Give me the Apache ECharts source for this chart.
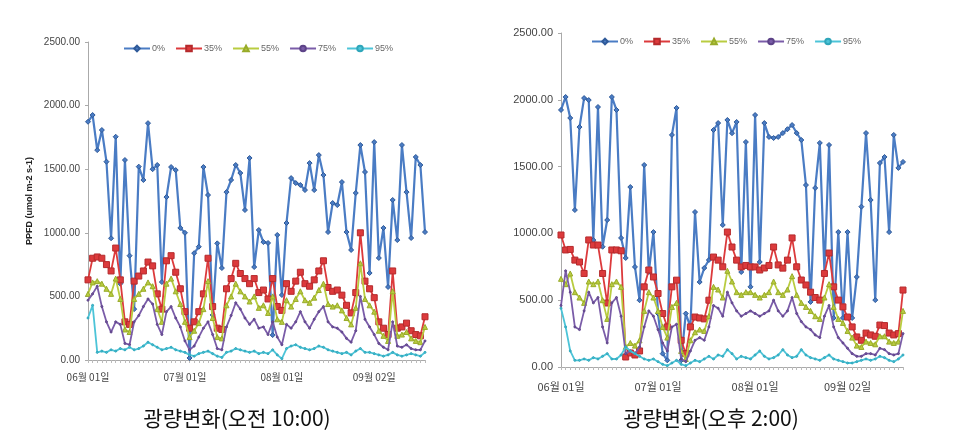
<!DOCTYPE html>
<html><head><meta charset="utf-8">
<script src="https://cdn.jsdelivr.net/npm/echarts@6/dist/echarts.min.js"></script>
<style>html,body{margin:0;padding:0;background:#fff}#c{width:963px;height:445px}</style>
</head><body><div id="c"></div>
<script>
const seriesNames = ['0%','35%','55%','75%','95%'];
const tickText = ['06월 01일','07월 01일','08월 01일','09월 02일'];
const tickIndex = [0,21,42,62];
const captions = ['광량변화(오전 10:00)','광량변화(오후 2:00)'];
const yTicks = [0,500,1000,1500,2000,2500];

// Left panel (10:00)
const amBlue = [1873,1926,1650,1808,1559,957,1755,600,1572,820,
400,1520,1415,1862,1500,1533,613,1281,1517,1493,
1038,1000,16,840,890,1517,1297,354,917,723,
1320,1415,1533,1470,1179,1588,731,1022,927,920,
196,983,511,1077,1430,1391,1376,1336,1548,1336,
1611,1454,1006,1234,1218,1399,1006,865,1313,1690,
1478,684,1713,802,1038,574,1258,943,1690,1320,
959,1596,1533,1006];
const amRed = [630,800,810,800,750,700,880,630,300,280,
620,660,700,770,740,520,400,780,820,690,
560,380,250,300,380,520,800,420,250,240,
560,640,760,680,640,600,640,530,550,480,
640,420,390,600,540,620,690,600,580,630,
700,780,570,540,550,510,430,370,530,1000,
620,560,490,300,250,200,700,250,260,290,
230,200,190,340];
const amGreen = [520,610,620,600,560,520,640,480,240,220,
480,520,560,610,580,400,300,600,640,540,
440,300,180,230,290,400,620,330,180,170,
430,500,600,540,500,460,500,410,430,370,
500,320,300,470,420,480,540,470,450,490,
550,600,440,420,430,390,330,280,410,760,
480,430,380,230,190,150,540,190,200,220,
170,150,140,260];
const amPurple = [470,520,580,420,300,220,300,280,130,120,
300,350,420,480,440,280,200,380,420,330,
260,150,80,110,180,250,300,200,90,80,
260,350,450,400,330,280,320,250,260,200,
300,180,120,280,250,300,380,300,250,320,
380,420,300,260,250,220,170,140,230,500,
320,260,200,130,100,80,300,110,100,120,
90,80,80,150];
const amCyan = [330,430,60,70,60,80,70,90,80,100,
80,90,110,140,120,100,80,90,100,80,
70,60,40,30,50,60,70,50,30,20,
60,70,90,80,70,60,70,50,60,50,
80,40,10,90,110,120,100,90,80,90,
110,100,80,70,60,50,60,40,70,90,
60,60,50,40,30,40,60,40,30,40,
50,40,30,60];

// Right panel (14:00)
const pmBlue = [1924,2021,1864,1175,1796,2013,1998,950,1946,900,
1100,2021,1924,966,816,1347,749,500,1512,711,
1010,400,100,50,1737,1939,50,400,300,1160,
636,741,801,1774,1826,1063,1849,1750,1834,711,
1684,600,1886,786,1826,1722,1714,1722,1751,1780,
1811,1751,1699,1362,487,1340,1677,711,1662,367,
1010,367,1010,367,674,1200,1751,1250,501,1527,
1572,1010,1737,1490,1535];
const pmRed = [988,876,880,800,786,700,951,913,913,700,
479,876,876,870,75,105,90,120,600,726,
674,550,400,300,600,650,200,100,300,374,
367,360,500,823,800,750,1010,898,800,749,
760,749,749,726,741,760,898,764,740,800,
966,750,651,614,560,520,501,700,853,600,
501,450,374,300,225,200,254,240,230,314,
310,254,240,250,576];
const pmGreen = [660,620,700,560,520,480,640,620,640,500,
360,620,640,600,150,180,160,200,420,560,
520,420,300,220,450,480,120,60,200,260,
280,270,380,600,580,520,720,640,560,540,
560,560,540,520,540,560,640,560,540,580,
680,540,480,450,420,380,360,520,620,450,
360,330,270,220,160,150,190,180,170,230,
230,190,180,190,420];
const pmPurple = [460,720,560,300,280,420,560,480,520,300,
180,480,520,380,100,120,100,150,300,420,
380,280,180,120,300,320,60,40,120,200,
220,200,300,460,440,380,560,480,420,380,
400,420,400,380,400,420,500,420,380,420,
520,400,340,300,280,240,220,380,460,300,
220,180,140,100,80,80,100,100,90,140,
130,100,90,100,250];
const pmCyan = [440,300,120,50,50,60,50,70,60,80,
100,60,60,90,150,120,100,80,60,50,
60,40,20,10,30,50,20,10,30,50,
40,60,80,60,90,80,130,100,60,80,
70,60,90,120,80,60,70,90,130,90,
70,80,130,90,70,60,50,70,90,60,
50,40,30,30,40,50,60,50,60,80,
70,50,40,60,90];

const colors = ['#4a7cc4','#dc3a3c','#b9cc40','#7a5ca8','#4cc4d8'];
const symbols = ['diamond','rect','triangle','circle','circle'];
const symSizes = [5,6,5,2,2];
const borderCols = ['#2f5a99','#b52a2c','#98ab2a','#5d4388','#2fa6ba'];

const amData = [amBlue, amRed, amGreen, amPurple, amCyan];
const pmData = [pmBlue, pmRed, pmGreen, pmPurple, pmCyan];

function cats(n){ return Array.from({length:n}, (_, i) => String(i)); }

function mkSeries(dataArr, idx){
  return dataArr.map((d, k) => ({
    name: seriesNames[k], type:'line', xAxisIndex: idx, yAxisIndex: idx,
    data: d, symbol: symbols[k], symbolSize: symSizes[k], showSymbol: true, showAllSymbol: true,
    lineStyle: {color: colors[k], width: k===0 ? 2.2 : 1.8},
    itemStyle: {color: colors[k], borderColor: borderCols[k], borderWidth: 1},
    animation: false, z: 2 + k
  }));
}

function xAx(idx, n, fs, margin){
  return {
    type:'category', gridIndex: idx, data: cats(n), boundaryGap:false,
    axisLine:{lineStyle:{color:'#aaa', width:1}},
    axisTick:{show:true, interval:0, length:3, lineStyle:{color:'#bbb'}},
    axisLabel:{
      interval: (i) => tickIndex.indexOf(i) >= 0,
      formatter: (v, i) => { const p = tickIndex.indexOf(Number(v)); return p >= 0 ? tickText[p] : ''; },
      fontSize: fs, color:'#444', margin: margin, fontFamily:'Noto Sans CJK KR'
    },
    splitLine:{show:false}
  };
}
function yAx(idx, fs, withName){
  const a = {
    type:'value', gridIndex: idx, min: yTicks[0], max: yTicks[yTicks.length-1], interval: 500,
    axisLine:{show:true, lineStyle:{color:'#aaa'}},
    axisTick:{show:true, length:3, lineStyle:{color:'#aaa'}},
    axisLabel:{formatter: v => v.toFixed(2), fontSize: fs, color:'#444', margin: 8, fontFamily:'Arial'},
    splitLine:{show:false}
  };
  if (withName){
    a.name = 'PPFD (umol m-2 s-1)';
    a.nameLocation = 'middle';
    a.nameGap = 54;
    a.nameTextStyle = {fontSize: 9, fontWeight:'bold', color:'#222', fontFamily:'Arial'};
  }
  return a;
}

const chart = echarts.init(document.getElementById('c'), null, {renderer:'canvas'});
chart.setOption({
  backgroundColor:'#fff',
  animation:false,
  color: colors,
  grid:[
    {left:88, right:963-425, top:42, bottom:445-360},
    {left:561, right:963-903, top:33, bottom:445-367}
  ],
  legend:[
    {data: seriesNames, left: 118, top: 39, itemWidth: 26, itemHeight: 7, itemGap: 10,
     textStyle:{fontSize:9, color:'#666', fontFamily:'Arial', padding:[0,0,0,-3]}},
    {data: seriesNames, left: 586, top: 32, itemWidth: 26, itemHeight: 7, itemGap: 10,
     textStyle:{fontSize:9, color:'#666', fontFamily:'Arial', padding:[0,0,0,-3]}}
  ],
  xAxis:[ xAx(0, amBlue.length, 10, 12), xAx(1, pmBlue.length, 11, 14) ],
  yAxis:[ yAx(0, 10, true), yAx(1, 11, false) ],
  series: mkSeries(amData, 0).concat(mkSeries(pmData, 1)),
  graphic:[
    {type:'text', x:237, y:418, style:{text: captions[0], fontSize:21, fontFamily:'Noto Sans CJK KR', fill:'#111', textAlign:'center', textVerticalAlign:'middle', align:'center', verticalAlign:'middle'}},
    {type:'text', x:711, y:418, style:{text: captions[1], fontSize:21, fontFamily:'Noto Sans CJK KR', fill:'#111', textAlign:'center', textVerticalAlign:'middle', align:'center', verticalAlign:'middle'}}
  ]
});
</script></body></html>
